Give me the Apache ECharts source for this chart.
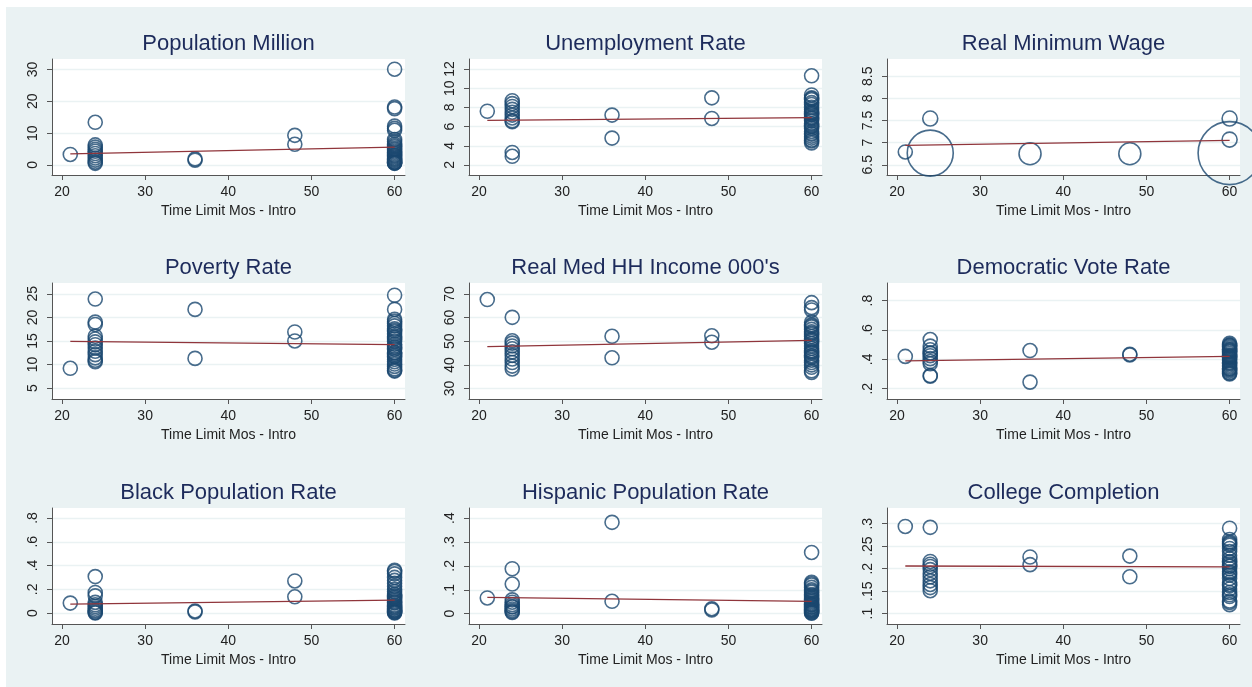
<!DOCTYPE html>
<html>
<head>
<meta charset="utf-8">
<title>Time limit scatter panels</title>
<script src="https://cdn.jsdelivr.net/npm/echarts@6/dist/echarts.min.js"></script>
<style>
  html, body { margin: 0; padding: 0; background: #fff; overflow: hidden; }
  #main { width: 1252px; height: 687px; }
</style>
</head>
<body>
<div id="main"></div>
<script>
// x groups (time limit in months) and the fitted line ends
var timeLimits = [21, 24, 36, 48, 60];
var fitX = [21, 60];
var xTicks = [20, 30, 40, 50, 60];

// values read per time-limit group
var popVals = [[3.3], [13.4, 6.3, 5.6, 4.9, 4.3, 3.6, 2.9, 2.2, 1.5, 0.9, 0.5], [1.5, 1.9], [9.3, 6.5],
  [30.1, 18.2, 17.7, 12.2, 11.5, 10.9, 8.0, 7.3, 6.6, 6.1, 5.7, 5.2, 4.8, 4.4, 4.0, 3.6, 3.2, 2.9, 2.6, 2.2, 1.9, 1.6, 1.3, 1.0, 0.8, 0.6, 0.5, 0.7]];
var unempVals = [[7.6], [8.7, 8.4, 8.1, 7.8, 7.5, 7.2, 6.9, 6.6, 6.5, 3.3, 2.9], [7.2, 4.8], [9.0, 6.85],
  [11.3, 9.3, 9.0, 8.8, 8.5, 8.3, 8.0, 7.8, 7.6, 7.4, 7.2, 7.0, 6.8, 6.6, 6.3, 6.0, 5.8, 5.5, 5.2, 5.0, 4.8, 4.6, 4.3, 7.5, 7.3, 6.9, 8.9, 6.1, 5.3, 4.5]];
var wageVals = [[6.79], [7.545, 6.765], [6.75], [6.75], [7.545, 7.07, 6.765]];
var wageSizes = [[14], [15, 46], [22], [22], [15, 15, 63]];
var povVals = [[9.2], [23.9, 19.0, 18.5, 16.0, 15.4, 14.8, 14.2, 13.5, 12.8, 12.1, 11.4, 10.9, 10.6], [21.7, 11.3], [16.9, 15.0],
  [24.7, 21.7, 19.6, 19.2, 18.7, 18.2, 17.6, 17.0, 16.5, 16.0, 15.4, 14.9, 14.3, 13.8, 13.2, 12.6, 12.1, 11.6, 11.1, 10.6, 10.1, 9.6, 9.1, 8.6, 8.8, 12.4, 13.5, 15.7, 17.3, 11.8]];
var incomeVals = [[67.6], [60.1, 50.2, 49.2, 48.0, 46.8, 45.5, 44.0, 42.5, 41.0, 39.5, 38.3], [52.1, 43.0], [52.3, 49.6],
  [66.3, 64.2, 63.2, 58.0, 57.0, 56.0, 55.0, 54.0, 53.0, 52.0, 51.0, 50.0, 49.0, 48.0, 47.0, 46.0, 45.0, 44.0, 43.0, 42.0, 41.0, 40.0, 39.0, 37.5, 36.8, 53.5, 50.5, 45.5, 43.5, 56.5]];
var demVals = [[0.42], [0.535, 0.49, 0.465, 0.445, 0.425, 0.405, 0.385, 0.37, 0.29, 0.285, 0.44], [0.46, 0.245], [0.435, 0.43],
  [0.51, 0.50, 0.49, 0.48, 0.47, 0.46, 0.45, 0.44, 0.43, 0.42, 0.41, 0.40, 0.39, 0.38, 0.37, 0.36, 0.35, 0.34, 0.33, 0.32, 0.31, 0.30, 0.495, 0.455, 0.415, 0.375, 0.335, 0.305, 0.465, 0.425]];
var blackVals = [[0.084], [0.307, 0.173, 0.145, 0.09, 0.07, 0.055, 0.04, 0.025, 0.015, 0.005, 0.0], [0.01, 0.018], [0.27, 0.137],
  [0.36, 0.33, 0.30, 0.275, 0.25, 0.225, 0.2, 0.18, 0.16, 0.14, 0.12, 0.1, 0.085, 0.07, 0.055, 0.04, 0.03, 0.02, 0.01, 0.005, 0.0, 0.015, 0.025, 0.045, 0.06, 0.09, 0.11, 0.13, 0.15, 0.35]];
var hispVals = [[0.066], [0.188, 0.124, 0.058, 0.048, 0.038, 0.028, 0.02, 0.013, 0.008, 0.005, 0.03], [0.382, 0.052], [0.021, 0.016],
  [0.256, 0.131, 0.12, 0.11, 0.1, 0.09, 0.08, 0.07, 0.06, 0.05, 0.045, 0.04, 0.035, 0.03, 0.025, 0.02, 0.015, 0.01, 0.007, 0.004, 0.002, 0.012, 0.018, 0.028, 0.038, 0.055, 0.065, 0.075, 0.095, 0.125]];
var collegeVals = [[0.294], [0.292, 0.216, 0.21, 0.205, 0.198, 0.19, 0.182, 0.173, 0.165, 0.158, 0.151], [0.226, 0.209], [0.228, 0.182],
  [0.29, 0.265, 0.26, 0.257, 0.252, 0.245, 0.238, 0.23, 0.222, 0.216, 0.21, 0.205, 0.2, 0.193, 0.186, 0.178, 0.17, 0.162, 0.155, 0.147, 0.138, 0.128, 0.12, 0.255, 0.214, 0.206, 0.19, 0.165, 0.142, 0.125]];

// fitted line values at x = 21 and x = 60
var popFit = [3.5, 5.6];
var unempFit = [6.65, 6.93];
var wageFit = [6.94, 7.05];
var povFit = [14.9, 14.2];
var incomeFit = [47.7, 50.4];
var demFit = [0.39, 0.42];
var blackFit = [0.075, 0.109];
var hispFit = [0.068, 0.052];
var collegeFit = [0.206, 0.204];

// y tick labels
var popTicks = [0, 10, 20, 30];
var unempTicks = [2, 4, 6, 8, 10, 12];
var wageTicks = [6.5, 7, 7.5, 8, 8.5];
var povTicks = [5, 10, 15, 20, 25];
var incomeTicks = [30, 40, 50, 60, 70];
var demTicks = [0.2, 0.4, 0.6, 0.8];
var blackTicks = [0, 0.2, 0.4, 0.6, 0.8];
var hispTicks = [0, 0.1, 0.2, 0.3, 0.4];
var collegeTicks = [0.1, 0.15, 0.2, 0.25, 0.3];

var panels = [
  { title: 'Population Million', vals: popVals, fit: popFit, ticks: popTicks, range: [-3.16, 33.3] },
  { title: 'Unemployment Rate', vals: unempVals, fit: unempFit, ticks: unempTicks, range: [0.95, 13.05] },
  { title: 'Real Minimum Wage', vals: wageVals, fit: wageFit, ticks: wageTicks, range: [6.27, 8.89], sizes: wageSizes },
  { title: 'Poverty Rate', vals: povVals, fit: povFit, ticks: povTicks, range: [2.68, 27.3] },
  { title: "Real Med HH Income 000's", vals: incomeVals, fit: incomeFit, ticks: incomeTicks, range: [25.6, 74.6] },
  { title: 'Democratic Vote Rate', vals: demVals, fit: demFit, ticks: demTicks, range: [0.13, 0.92] },
  { title: 'Black Population Rate', vals: blackVals, fit: blackFit, ticks: blackTicks, range: [-0.092, 0.884] },
  { title: 'Hispanic Population Rate', vals: hispVals, fit: hispFit, ticks: hispTicks, range: [-0.043, 0.442] },
  { title: 'College Completion', vals: collegeVals, fit: collegeFit, ticks: collegeTicks, range: [0.077, 0.335] }
];

var colLeft = [52, 469, 887];
var rowTop = [59, 283, 508];
var plotW = 353, plotH = 116;

var navy = '#1a476f';
var axisColor = '#555';
var fontFam = '"Liberation Sans", Arial, sans-serif';

function fmt(v) {
  return String(v).replace(/^0\./, '.').replace(/^-0\./, '-.');
}

var myChart = echarts.init(document.getElementById('main'));

var option = {
  backgroundColor: '#eaf2f3',
  animation: false,
  textStyle: { fontFamily: fontFam },
  graphic: [
    { type: 'rect', shape: { x: 0, y: 0, width: 1252, height: 7 }, style: { fill: '#fff' }, silent: true },
    { type: 'rect', shape: { x: 0, y: 0, width: 6, height: 687 }, style: { fill: '#fff' }, silent: true }
  ],
  title: [], grid: [], xAxis: [], yAxis: [], series: []
};

panels.forEach(function (p, i) {
  var left = colLeft[i % 3], top = rowTop[Math.floor(i / 3)];
  option.title.push({
    text: p.title,
    left: left + plotW / 2,
    top: top - 26,
    textAlign: 'center',
    padding: 0,
    textStyle: { fontSize: 22, fontWeight: 'normal', color: '#1d2b5b', fontFamily: fontFam }
  });
  option.grid.push({
    left: left, top: top, width: plotW, height: plotH,
    show: true, backgroundColor: '#fff', borderWidth: 0
  });
  option.xAxis.push({
    gridIndex: i, type: 'value', min: 18.8, max: 61.25,
    name: 'Time Limit Mos - Intro', nameLocation: 'middle', nameGap: 29,
    nameTextStyle: { fontSize: 14, color: '#222' },
    axisLine: { onZero: false, lineStyle: { color: axisColor, width: 1 } },
    axisTick: { customValues: xTicks, length: 5, lineStyle: { color: axisColor } },
    axisLabel: { customValues: xTicks, fontSize: 14, color: '#222', margin: 10 },
    splitLine: { show: false }
  });
  option.yAxis.push({
    gridIndex: i, type: 'value', min: p.range[0], max: p.range[1],
    axisLine: { show: true, onZero: false, lineStyle: { color: axisColor, width: 1 } },
    axisTick: { show: true, customValues: p.ticks, length: 5, lineStyle: { color: axisColor } },
    axisLabel: { customValues: p.ticks, rotate: 90, fontSize: 14, color: '#222', margin: 12, formatter: fmt },
    splitLine: { show: true, lineStyle: { color: '#eaf2f3', width: 1.3 } }
  });

  var pts = [];
  p.vals.forEach(function (group, g) {
    group.forEach(function (v, k) {
      pts.push({ value: [timeLimits[g], v], symbolSize: p.sizes ? p.sizes[g][k] : 14 });
    });
  });
  option.series.push({
    type: 'scatter', xAxisIndex: i, yAxisIndex: i,
    symbol: 'circle', clip: false, silent: true,
    itemStyle: { color: 'rgba(0,0,0,0)', borderColor: navy, borderWidth: 1.6 },
    data: pts, z: 2
  });
  option.series.push({
    type: 'line', xAxisIndex: i, yAxisIndex: i,
    showSymbol: false, silent: true,
    lineStyle: { color: '#90353b', width: 1.3 },
    data: [[fitX[0], p.fit[0]], [fitX[1], p.fit[1]]], z: 3
  });
});

myChart.setOption(option);
window.addEventListener('resize', function () {
  myChart.resize();
});
</script>
</body>
</html>
